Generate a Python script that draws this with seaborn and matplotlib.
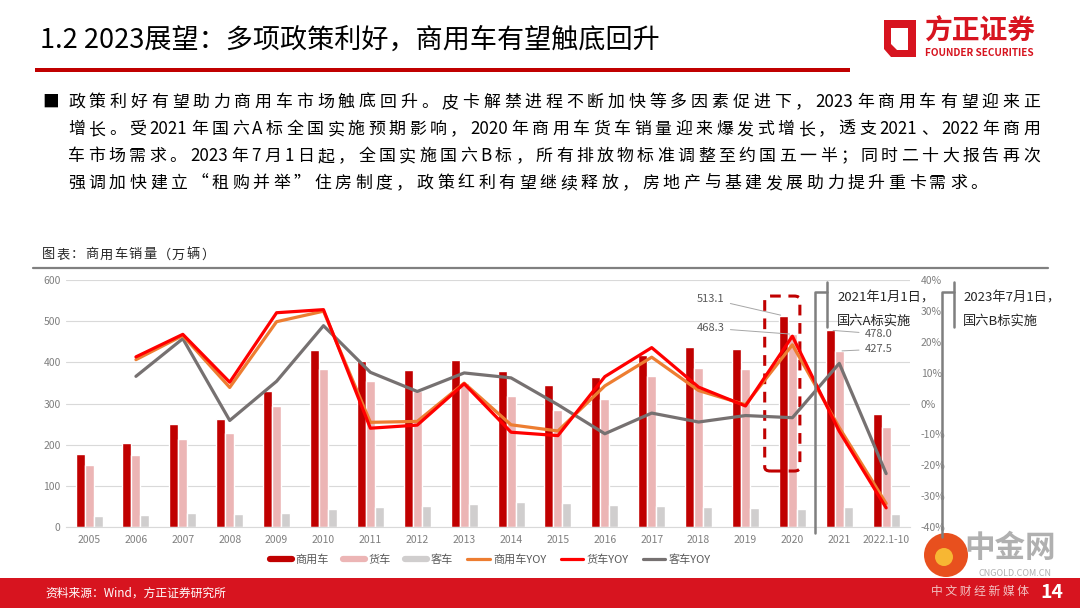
import re
import numpy as np
import pandas as pd
import matplotlib
matplotlib.use("Agg")
import matplotlib.pyplot as plt
import seaborn as sns
from matplotlib.lines import Line2D
from matplotlib.patches import Rectangle, FancyBboxPatch, Polygon, Ellipse

# data
years = ["2005", "2006", "2007", "2008", "2009", "2010", "2011", "2012", "2013",
         "2014", "2015", "2016", "2017", "2018", "2019", "2020", "2021", "2022.1-10"]
cv_sales = [178, 203, 249, 262, 331, 430, 403, 381, 405, 379, 345, 365, 418, 437, 432, 513.1, 478.0, 275]
truck_sales = [151, 174, 214, 229, 295, 385, 354, 330, 350, 318, 285, 310, 367, 387, 385, 468.3, 427.5, 243]
bus_sales = [26, 28, 35, 32, 35, 44, 48, 50, 56, 60, 59, 53, 52, 48, 47, 44, 49, 31]
cv_yoy = [np.nan, 14.2, 22.0, 5.2, 26.5, 29.9, -6.1, -5.8, 6.6, -6.9, -8.9, 5.7, 15.0, 4.2, -0.4, 19.0, -7.8, -32.4]
truck_yoy = [np.nan, 15.1, 22.4, 6.9, 29.4, 30.4, -8.0, -7.0, 6.4, -9.3, -10.4, 8.7, 18.1, 5.3, -0.8, 21.8, -9.0, -33.8]
bus_yoy = [np.nan, 8.8, 21.0, -5.5, 7.2, 25.2, 10.1, 3.9, 9.9, 8.3, -0.4, -9.8, -3.1, -6.0, -3.9, -4.6, 13.0, -22.7]

bar_names = ["商用车", "货车", "客车"]
line_names = ["商用车YOY", "货车YOY", "客车YOY"]
colors = {"商用车": "#C00000", "货车": "#ECB5B5", "客车": "#D0CECE",
          "商用车YOY": "#ED7D31", "货车YOY": "#FF0000", "客车YOY": "#767171"}

bars = pd.DataFrame({"year": years * 3,
                     "series": sum([[n] * len(years) for n in bar_names], []),
                     "value": cv_sales + truck_sales + bus_sales})
lines = pd.DataFrame({"idx": list(range(len(years))) * 3,
                      "series": sum([[n] * len(years) for n in line_names], []),
                      "value": cv_yoy + truck_yoy + bus_yoy})

sns.set_style("white")
plt.rcParams["font.family"] = ["Noto Sans CJK SC", "DejaVu Sans"]

fig = plt.figure(figsize=(10.8, 6.08), dpi=100)
renderer = fig.canvas.get_renderer()

def fx(px):
    return px / 1080

def fy(py):
    return 1 - py / 608

def tokens(s):
    # latin/digit runs stay together, CJK chars are spaced out
    return re.findall(r"[A-Za-z0-9.]+|.", s)

def token_widths(toks, **kw):
    ws = []
    for tk in toks:
        t = fig.text(0, 0, tk, **kw)
        ws.append(t.get_window_extent(renderer).width)
        t.remove()
    return ws

def spaced_text(x_px, y_px, s, spacing=None, width=None, **kw):
    toks = tokens(s)
    ws = token_widths(toks, **kw)
    if width is not None:
        spacing = (width - sum(ws)) / (len(toks) - 1)
    x = x_px
    for tk, w in zip(toks, ws):
        fig.text(fx(x), fy(y_px), tk, va="center", ha="left", **kw)
        x += w + spacing
    return spacing

# === header ===
fig.text(fx(40), fy(40), "1.2 2023展望：多项政策利好，商用车有望触底回升",
         fontsize=19.5, color="black", va="center", ha="left")
fig.add_artist(Rectangle((fx(35), fy(72)), fx(815), 4 / 608, color="#C00000", lw=0))
# logo
fig.add_artist(Polygon([(fx(884), fy(20)), (fx(916), fy(20)), (fx(916), fy(57)),
                        (fx(891), fy(57)), (fx(884), fy(49))], closed=True, color="#D7141F", lw=0))
fig.add_artist(Polygon([(fx(891), fy(28)), (fx(908), fy(28)), (fx(908), fy(50)),
                        (fx(897), fy(50)), (fx(891), fy(44))], closed=True, color="white", lw=0))
fig.text(fx(924), fy(32), "方正证券", fontsize=20, fontweight="bold", color="#D7141F", va="center")
fig.text(fx(925), fy(53), "FOUNDER SECURITIES", fontsize=7.2, fontweight="bold", color="#D7141F", va="center")

# === bullet text ===
body = ["政策利好有望助力商用车市场触底回升。皮卡解禁进程不断加快等多因素促进下，2023年商用车有望迎来正",
        "增长。受2021年国六A标全国实施预期影响，2020年商用车货车销量迎来爆发式增长，透支2021、2022年商用",
        "车市场需求。2023年7月1日起，全国实施国六B标，所有排放物标准调整至约国五一半；同时二十大报告再次",
        "强调加快建立“租购并举”住房制度，政策红利有望继续释放，房地产与基建发展助力提升重卡需求。"]
body_kw = dict(fontsize=12.2, color="black")
fig.text(fx(42), fy(102), "■", fontsize=12, va="center", color="black")
gaps = []
for i, line in enumerate(body[:3]):
    gaps.append(spaced_text(68, 102 + 27 * i, line, width=972, **body_kw))
spaced_text(68, 102 + 27 * 3, body[3], spacing=float(np.mean(gaps)), **body_kw)

spaced_text(42, 255, "图表：商用车销量（万辆）", spacing=1.2, fontsize=9.5, color="#262626")
fig.add_artist(Line2D([fx(33), fx(1048)], [fy(268), fy(268)], color="#808080", lw=1.6))

# === chart ===
ax = fig.add_axes([fx(65.6), fy(527), fx(844), 247 / 608])
sns.barplot(data=bars, x="year", y="value", hue="series", hue_order=bar_names,
            palette=colors, width=0.575, saturation=1, errorbar=None, legend=False, ax=ax)
ax.set_ylim(0, 600)
ax.set_yticks(range(0, 601, 100))
ax.set_xlim(-0.5, len(years) - 0.5)
ax.set_xlabel("")
ax.set_ylabel("")
ax.yaxis.grid(True, color="#D9D9D9", lw=0.8)
ax.set_axisbelow(True)
for s in ["top", "right", "left"]:
    ax.spines[s].set_visible(False)
ax.spines["bottom"].set_color("#D9D9D9")
ax.tick_params(axis="both", length=0, labelsize=7.5, colors="#7F7F7F")
ax.tick_params(axis="x", pad=6)

ax2 = ax.twinx()
sns.lineplot(data=lines, x="idx", y="value", hue="series",
             hue_order=["客车YOY", "商用车YOY", "货车YOY"], palette=colors,
             linewidth=2.3, legend=False, ax=ax2)
ax2.set_ylim(-40, 40)
ax2.set_yticks(range(-40, 41, 10))
ax2.set_yticklabels([f"{v}%" for v in range(-40, 41, 10)])
ax2.set_ylabel("")
ax2.set_xlim(-0.5, len(years) - 0.5)
for s in ax2.spines.values():
    s.set_visible(False)
ax2.tick_params(axis="y", length=0, labelsize=7.5, colors="#7F7F7F", pad=8)

# value call-outs for 2020 / 2021
off = 0.575 / 3
i20, i21 = years.index("2020"), years.index("2021")
call = dict(fontsize=8, color="#595959", va="center",
            arrowprops=dict(arrowstyle="-", color="#A6A6A6", lw=0.7))
ax.annotate(f"{cv_sales[i20]:.1f}", xy=(i20 - off, cv_sales[i20]), xytext=(13.55, 554), ha="right", **call)
ax.annotate(f"{truck_sales[i20]:.1f}", xy=(i20, truck_sales[i20]), xytext=(13.55, 483), ha="right", **call)
ax.annotate(f"{cv_sales[i21]:.1f}", xy=(i21 - off, cv_sales[i21]), xytext=(16.55, 469), ha="left", **call)
ax.annotate(f"{truck_sales[i21]:.1f}", xy=(i21, truck_sales[i21]), xytext=(16.55, 432), ha="left", **call)

# dashed highlight around 2020
ax.add_patch(FancyBboxPatch((i20 - 0.59, 136), 0.75, 425, boxstyle="round,pad=0,rounding_size=0.12",
                            fill=False, ec="#C00000", lw=2.2, ls=(0, (3.5, 2.5)),
                            mutation_aspect=80, clip_on=False, zorder=5))

# policy brackets
for x0, ytop in [(815, 533), (942, 537)]:
    fig.add_artist(Line2D([fx(x0), fx(x0), fx(x0 + 12)], [fy(ytop), fy(292), fy(292)], color="#7F7F7F", lw=1.8))
    fig.add_artist(Line2D([fx(x0 + 12), fx(x0 + 12)], [fy(282), fy(327)], color="#7F7F7F", lw=1.8))
fig.text(fx(837), fy(298), "2021年1月1日，", fontsize=9.5, va="center")
fig.text(fx(837), fy(321), "国六A标实施", fontsize=9.5, va="center")
fig.text(fx(963), fy(298), "2023年7月1日，", fontsize=9.5, va="center")
fig.text(fx(963), fy(321), "国六B标实施", fontsize=9.5, va="center")

# legend
handles = [Line2D([], [], color=colors[n], lw=4.5) for n in bar_names] + \
          [Line2D([], [], color=colors[n], lw=2.3) for n in line_names]
fig.legend(handles, bar_names + line_names, loc="center", bbox_to_anchor=(fx(490), fy(560)),
           ncol=6, frameon=False, fontsize=8, handlelength=2.0, columnspacing=1.3,
           handletextpad=0.3, labelcolor="#595959")

# footer
fig.add_artist(Rectangle((0, 0), 1, 30 / 608, color="#D7141F", lw=0))
fig.text(fx(45), fy(593), "资料来源：Wind，方正证券研究所", fontsize=8.5, color="white", va="center")
fig.add_artist(Ellipse((fx(946), fy(555)), 44 / 1080, 44 / 608, color="#E8501E", lw=0))
fig.add_artist(Ellipse((fx(944), fy(557)), 18 / 1080, 18 / 608, color="#F7B733", lw=0))
fig.text(fx(1010), fy(548), "中金网", fontsize=22, fontweight="bold", color="#B0B0B0", va="center", ha="center")
fig.text(fx(1015), fy(573), "CNGOLD.COM.CN", fontsize=6.5, color="#B0B0B0", va="center", ha="center")
fig.text(fx(980), fy(591), "中 文 财 经 新 媒 体", fontsize=8.5, color="#F2C2C2", va="center", ha="center")
fig.text(fx(1052), fy(593), "14", fontsize=14, fontweight="bold", color="white", va="center", ha="center")

fig.savefig("out.png", dpi=100)
